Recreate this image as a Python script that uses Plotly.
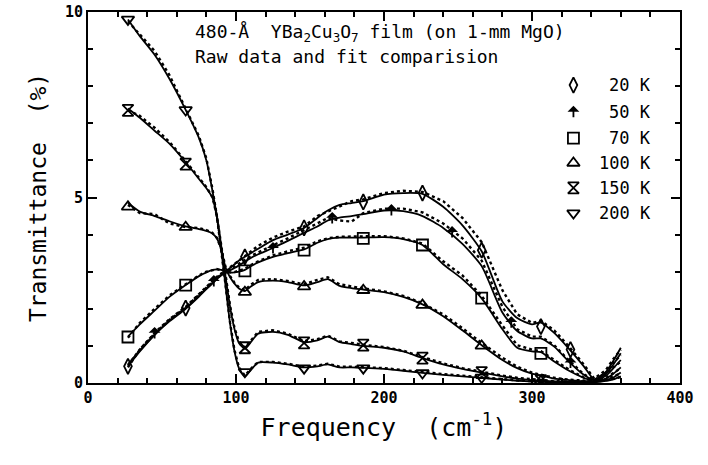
import plotly.graph_objects as go

# ---------------- data ----------------
FX = [27, 35, 45, 55, 66, 75, 80, 84, 87, 90, 93, 96, 99, 102, 106, 110, 115, 125, 135, 146,
      155, 162, 170, 178, 186, 200, 213, 226, 240, 253, 266, 280, 290, 300, 306, 315, 325, 335,
      342, 350, 355, 360]

fit_20K = [0.45, 0.85, 1.3, 1.68, 2.02, 2.35, 2.55, 2.7, 2.82, 2.92, 3.0, 3.1, 3.2, 3.3, 3.4, 3.5,
           3.62, 3.85, 4.0, 4.18, 4.45, 4.65, 4.8, 4.85, 4.9, 5.08, 5.12, 5.1, 4.75, 4.25, 3.55,
           2.2, 1.75, 1.58, 1.63, 1.35, 0.92, 0.45, 0.1, 0.3, 0.6, 0.95]
fit_50K = [0.5, 0.88, 1.3, 1.66, 2.0, 2.33, 2.53, 2.68, 2.8, 2.9, 2.97, 3.04, 3.1, 3.17, 3.27, 3.37,
           3.47, 3.64, 3.83, 4.05, 4.22, 4.38, 4.46, 4.5, 4.55, 4.65, 4.63, 4.5, 4.18, 3.75, 3.15,
           1.9, 1.4, 1.2, 1.2, 0.98, 0.57, 0.22, 0.07, 0.25, 0.5, 0.8]
fit_70K = [1.25, 1.58, 1.95, 2.32, 2.64, 2.88, 2.98, 3.04, 3.06, 3.05, 3.0, 2.98, 2.98, 3.0, 3.05,
           3.15, 3.25, 3.4, 3.5, 3.6, 3.78, 3.88, 3.92, 3.92, 3.92, 3.93, 3.88, 3.72, 3.2, 2.8, 2.28,
           1.45, 0.95, 0.85, 0.83, 0.58, 0.33, 0.14, 0.05, 0.2, 0.4, 0.62]
fit_100K = [4.85, 4.62, 4.5, 4.36, 4.22, 4.15, 4.1, 4.03, 3.9, 3.6, 3.1, 2.85, 2.68, 2.55, 2.48,
            2.6, 2.72, 2.76, 2.72, 2.63, 2.72, 2.8, 2.62, 2.56, 2.52, 2.45, 2.32, 2.12, 1.8, 1.42,
            1.02, 0.62, 0.4, 0.25, 0.2, 0.12, 0.08, 0.05, 0.04, 0.12, 0.25, 0.42]
fit_150K = [7.4, 7.15, 6.8, 6.45, 5.95, 5.5, 5.25, 5.0, 4.5, 3.7, 2.85, 2.05, 1.45, 1.08, 0.92,
            1.1, 1.33, 1.38, 1.3, 1.1, 1.15, 1.25, 1.1, 1.05, 1.0, 0.95, 0.85, 0.67, 0.5, 0.38,
            0.28, 0.18, 0.12, 0.08, 0.06, 0.04, 0.03, 0.03, 0.03, 0.08, 0.15, 0.28]
fit_200K = [9.8, 9.35, 8.85, 8.2, 7.36, 6.6, 6.0, 5.2, 4.5, 3.6, 2.6, 1.6, 0.85, 0.4, 0.18, 0.35,
            0.55, 0.55, 0.5, 0.42, 0.45, 0.5, 0.42, 0.42, 0.41, 0.38, 0.33, 0.27, 0.22, 0.18, 0.14,
            0.09, 0.06, 0.04, 0.03, 0.02, 0.02, 0.02, 0.02, 0.06, 0.1, 0.18]

raw_20K = [0.42, 0.9, 1.35, 1.72, 2.05, 2.4, 2.6, 2.75, 2.86, 2.95, 3.02, 3.12, 3.22, 3.3, 3.42,
           3.55, 3.7, 3.92, 4.08, 4.22, 4.5, 4.62, 4.75, 4.9, 4.95, 5.12, 5.18, 5.15, 4.9, 4.45,
           3.8, 2.5, 1.85, 1.62, 1.68, 1.42, 0.98, 0.5, 0.12, 0.35, 0.65, 0.9]
raw_50K = [0.48, 0.9, 1.33, 1.7, 2.04, 2.38, 2.57, 2.72, 2.83, 2.92, 2.98, 3.06, 3.14, 3.22, 3.33,
           3.42, 3.52, 3.7, 3.9, 4.12, 4.3, 4.45, 4.38, 4.35, 4.58, 4.7, 4.7, 4.6, 4.3, 3.9, 3.3,
           2.05, 1.45, 1.25, 1.25, 1.02, 0.6, 0.24, 0.08, 0.28, 0.55, 0.75]
raw_70K = [1.22, 1.62, 2.0, 2.36, 2.66, 2.9, 3.0, 3.05, 3.07, 3.04, 3.0, 2.98, 2.99, 3.02, 3.08,
           3.18, 3.28, 3.44, 3.55, 3.65, 3.82, 3.9, 3.94, 3.95, 3.95, 3.96, 3.9, 3.76, 3.28, 2.9,
           2.35, 1.55, 1.02, 0.9, 0.86, 0.62, 0.36, 0.15, 0.06, 0.22, 0.42, 0.58]
raw_100K = [4.8, 4.58, 4.55, 4.3, 4.2, 4.18, 4.12, 4.05, 3.92, 3.62, 3.12, 2.88, 2.7, 2.58, 2.5,
            2.65, 2.78, 2.8, 2.75, 2.66, 2.78, 2.85, 2.66, 2.6, 2.55, 2.47, 2.35, 2.15, 1.85, 1.48,
            1.08, 0.68, 0.44, 0.28, 0.22, 0.14, 0.09, 0.06, 0.05, 0.14, 0.28, 0.4]
raw_150K = [7.35, 7.2, 6.88, 6.5, 5.98, 5.55, 5.28, 5.02, 4.52, 3.72, 2.88, 2.08, 1.48, 1.12, 0.95,
            1.15, 1.38, 1.42, 1.33, 1.13, 1.18, 1.28, 1.12, 1.08, 1.03, 0.97, 0.87, 0.7, 0.53, 0.4,
            0.3, 0.2, 0.14, 0.1, 0.08, 0.05, 0.04, 0.04, 0.04, 0.1, 0.18, 0.26]
raw_200K = [9.75, 9.4, 8.95, 8.3, 7.4, 6.65, 6.05, 5.25, 4.52, 3.62, 2.62, 1.62, 0.88, 0.42, 0.2,
            0.38, 0.57, 0.57, 0.52, 0.44, 0.47, 0.52, 0.44, 0.44, 0.43, 0.4, 0.35, 0.29, 0.24, 0.2,
            0.15, 0.1, 0.07, 0.05, 0.04, 0.03, 0.03, 0.03, 0.03, 0.07, 0.12, 0.16]

mk_x_20K = [27, 66, 106, 146, 186, 226, 266, 306, 326]
mk_y_20K = [0.45, 2.02, 3.4, 4.18, 4.88, 5.12, 3.58, 1.52, 0.9]
mk_x_50K = [45, 85, 125, 165, 205, 246, 286, 326]
mk_y_50K = [1.35, 2.75, 3.64, 4.45, 4.66, 4.07, 1.64, 0.55]
mk_x_70K = [27, 66, 106, 146, 186, 226, 266, 306]
mk_y_70K = [1.24, 2.64, 3.02, 3.58, 3.9, 3.72, 2.29, 0.8]
mk_x_100K = [27, 66, 106, 146, 186, 226, 266, 306]
mk_y_100K = [4.75, 4.2, 2.45, 2.6, 2.5, 2.1, 1.0, 0.05]
mk_x_150K = [27, 66, 106, 146, 186, 226, 266, 306]
mk_y_150K = [7.35, 5.9, 0.95, 1.08, 1.02, 0.67, 0.28, 0.06]
mk_x_200K = [27, 66, 106, 146, 186, 226, 266]
mk_y_200K = [9.8, 7.36, 0.3, 0.4, 0.4, 0.27, 0.15]

labels = ["20 K", "50 K", "70 K", "100 K", "150 K", "200 K"]
x_ticks = [0, 100, 200, 300, 400]
y_ticks = [0, 5, 10]

series = [
    (fit_20K, raw_20K, mk_x_20K, mk_y_20K, "diamond-tall-open"),
    (fit_50K, raw_50K, mk_x_50K, mk_y_50K, None),
    (fit_70K, raw_70K, mk_x_70K, mk_y_70K, "square-open"),
    (fit_100K, raw_100K, mk_x_100K, mk_y_100K, "triangle-up-open"),
    (fit_150K, raw_150K, mk_x_150K, mk_y_150K, "hourglass-open"),
    (fit_200K, raw_200K, mk_x_200K, mk_y_200K, "triangle-down-open"),
]

MONO = "DejaVu Sans Mono"
fig = go.Figure()


def up_arrow(x, y):
    # open up-arrow glyph drawn with an annotation arrow centred on (x, y)
    fig.add_annotation(x=x, y=y, text="", showarrow=True, ax=0, ay=13, axref="pixel", ayref="pixel",
                       yshift=6, arrowhead=1, arrowsize=1.1, arrowwidth=1.8, arrowcolor="black",
                       standoff=0, startstandoff=0)


for fit, raw, mx, my, sym in series:
    fig.add_trace(go.Scatter(x=FX, y=raw, mode="lines", line=dict(color="black", width=2.4, dash="dot"),
                             showlegend=False))
    fig.add_trace(go.Scatter(x=FX, y=fit, mode="lines",
                             line=dict(color="black", width=1.8, shape="spline", smoothing=0.6),
                             showlegend=False))
    if sym is None:
        for xv, yv in zip(mx, my):
            up_arrow(xv, yv)
    else:
        fig.add_trace(go.Scatter(x=mx, y=my, mode="markers",
                                 marker=dict(symbol=sym, size=11, color="black",
                                             line=dict(width=1.8, color="black")),
                                 showlegend=False))

# legend built as data-space markers + annotations
leg_x_sym = 328
leg_x_txt = 382
leg_y = [8.03, 7.31, 6.6, 5.93, 5.26, 4.58]
for (fit, raw, mx, my, sym), lab, ly in zip(series, labels, leg_y):
    if sym is None:
        up_arrow(leg_x_sym, ly)
    else:
        fig.add_trace(go.Scatter(x=[leg_x_sym], y=[ly], mode="markers",
                                 marker=dict(symbol=sym, size=11, color="black",
                                             line=dict(width=1.8, color="black")),
                                 showlegend=False))
    fig.add_annotation(x=leg_x_txt, y=ly, text=lab, showarrow=False, xanchor="right",
                       font=dict(family=MONO, size=17, color="black"))

fig.add_annotation(xref="paper", yref="paper", x=0.177, y=0.943, xanchor="left", yanchor="middle",
                   text="480-Å  YBa<sub>2</sub>Cu<sub>3</sub>O<sub>7</sub> film (on 1-mm MgO)",
                   showarrow=False, font=dict(family=MONO, size=18, color="black"))
fig.add_annotation(xref="paper", yref="paper", x=0.177, y=0.879, xanchor="left", yanchor="middle",
                   text="Raw data and fit comparision",
                   showarrow=False, font=dict(family=MONO, size=18, color="black"))

axis_common = dict(showgrid=False, zeroline=False, showline=True, linecolor="black", linewidth=2,
                   mirror="ticks", ticks="inside", tickcolor="black", tickwidth=1.5, ticklen=9,
                   automargin=False,
                   tickfont=dict(family=MONO, size=15, color="black", weight="bold"))

fig.update_xaxes(range=[0, 400], tickvals=x_ticks, ticktext=[str(v) for v in x_ticks],
                 minor=dict(dtick=20, ticks="inside", ticklen=5, tickcolor="black", tickwidth=1.5),
                 title=dict(text="Frequency  (cm<sup>-1</sup>)",
                            font=dict(family=MONO, size=25, color="black"), standoff=12),
                 **axis_common)
fig.update_yaxes(range=[0, 10], tickvals=y_ticks, ticktext=[str(v) for v in y_ticks],
                 minor=dict(dtick=1, ticks="inside", ticklen=5, tickcolor="black", tickwidth=1.5),
                 title=dict(text="Transmittance  (%)",
                            font=dict(family=MONO, size=23, color="black"), standoff=12),
                 **axis_common)

fig.update_layout(width=708, height=465, margin=dict(l=88, r=28, t=12, b=82, autoexpand=False),
                  paper_bgcolor="white", plot_bgcolor="white", showlegend=False)

fig.write_html("out.html")
